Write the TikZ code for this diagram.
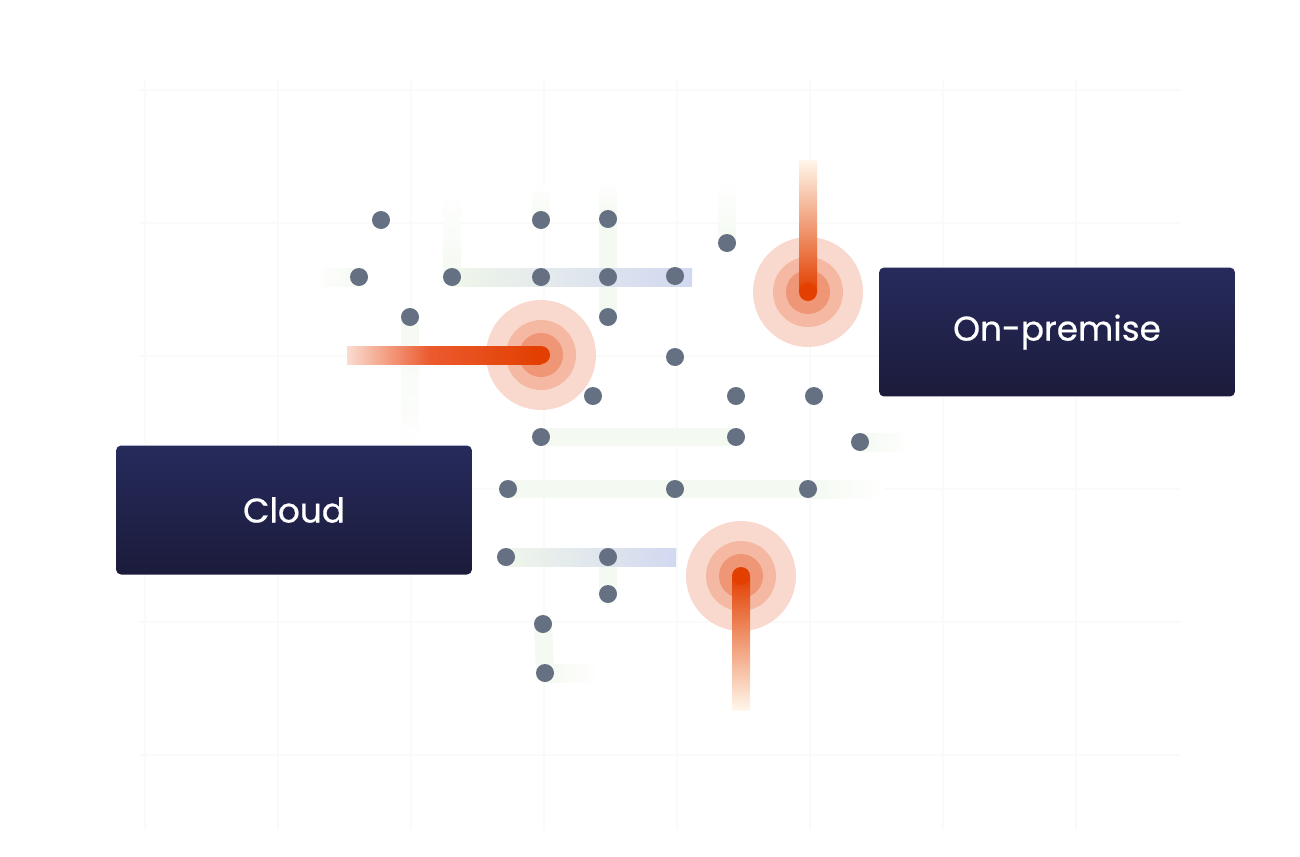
\documentclass[tikz,border=0pt]{standalone}
\usepackage{fontspec}
\setmainfont{Poppins}
\newfontfamily\sitefont{Poppins}[FakeBold=0.6]
\usetikzlibrary{positioning, backgrounds}
\definecolor{dotgray}{HTML}{657083}
\definecolor{boxtop}{HTML}{262B5C}
\definecolor{boxbot}{HTML}{1C1B3B}
\definecolor{gridgreen}{HTML}{F8FBF7}
\definecolor{fadegreen}{HTML}{F4F9F1}
\definecolor{bargreen}{HTML}{EFF6EA}
\definecolor{barblue}{HTML}{D2D8F0}
\definecolor{ringA}{HTML}{F9D9CE}
\definecolor{ringB}{HTML}{F4B8A3}
\definecolor{ringC}{HTML}{EF9677}
\definecolor{hotred}{HTML}{E23F00}
\definecolor{hotorange}{HTML}{EB5A2E}
\definecolor{paleorange}{HTML}{FADCD0}
\definecolor{paleyellow}{HTML}{FFF7EA}
\definecolor{midorange}{HTML}{F6A064}
\tikzset{dot/.style={circle, fill=dotgray, inner sep=0pt, outer sep=0pt, minimum size=0.36cm},
	site/.style={rectangle, rounded corners=0.1cm, top color=boxtop, bottom color=boxbot, minimum width=7.12cm, minimum height=2.58cm, inner sep=0pt, text=white, font=\sitefont\fontsize{19.5}{24}\selectfont},
	fadebar/.style={line width=0.36cm, fadegreen},
	gridline/.style={line width=0.03cm, gridgreen}}

\begin{document}
\begin{tikzpicture}[x=0.02cm, y=-0.02cm]
	\useasboundingbox (0,0) rectangle (1300,856);
	%Punkte
	\foreach \name/\x/\y in {a1/381/220, a2/541/220, a3/608/219, a4/727/243,
		b1/359/277, b2/452/277, b3/541/277, b4/608/277, b5/675/276,
		c1/410/317, c2/608/317, c3/675/357,
		e1/593/396, e2/736/396, e3/814/396,
		f1/541/437, f2/736/437, f3/860/442,
		h1/508/489, h2/675/489, h3/808/489,
		k1/506/557, k2/608/557, k3/608/594,
		m1/543/624, m2/545/673} {
		\node[dot] (\name) at (\x,\y) {};
	}
	%freie Enden
	\coordinate (b6) at (692,277);
	\coordinate (k4) at (676,557);
	\coordinate (g1) at (541,355);
	\coordinate (g2) at (808,292);
	\coordinate (g3) at (741,576);
	\coordinate (t1) at (347,355);
	\coordinate (t2) at (808,160);
	\coordinate (t3) at (741,710);
	\begin{scope}[on background layer]
		%Raster
		\foreach \x in {145,278,...,1080} {
			\draw[gridline] (\x,80) -- (\x,830);
		}
		\foreach \y in {90,223,...,760} {
			\draw[gridline] (140,\y) -- (1180,\y);
		}
		%blasse Balken
		\shade[left color=white, right color=fadegreen] (315,268) rectangle ([yshift=-0.18cm]b1.center);
		\foreach \d/\top in {b2/190, a2/185, a4/180} {
			\shade[top color=white, bottom color=fadegreen] ([xshift=-0.18cm]\d.center |- 0,\top) rectangle ([xshift=0.18cm]\d.center);
		}
		\shade[top color=white, bottom color=fadegreen] (599,180) rectangle ([xshift=0.18cm]a3.center);
		\draw[fadebar] (a3.center) -- (c2.center);
		\shade[top color=fadegreen, bottom color=white] ([xshift=-0.18cm]c1.center) rectangle (419,450);
		\draw[fadebar] (f1.center) -- (f2.center);
		\draw[fadebar] (h1.center) -- (h3.center);
		\shade[left color=fadegreen, right color=white] ([yshift=0.18cm]h3.center) rectangle (885,498);
		\shade[left color=fadegreen, right color=white] ([yshift=0.18cm]f3.center) rectangle (910,451);
		\draw[fadebar] (m1.center) -- (m2.center);
		\shade[left color=fadegreen, right color=white] ([yshift=0.18cm]m2.center) rectangle (600,682);
		\draw[fadebar] (k2.center) -- (k3.center);
		%Verlaufsbalken
		\shade[left color=bargreen, right color=barblue] ([yshift=0.18cm]b2.center) rectangle ([yshift=-0.18cm]b6);
		\shade[left color=bargreen, right color=barblue] ([yshift=0.18cm]k1.center) rectangle ([yshift=-0.18cm]k4);
	\end{scope}
	%Ringe
	\foreach \g in {g1,g2,g3} {
		\fill[ringA] (\g) circle[radius=55];
		\fill[ringB] (\g) circle[radius=35];
		\fill[ringC] (\g) circle[radius=22];
	}
	%Leitungen
	\coordinate (t1b) at (430,355);
	\shade[left color=paleorange, right color=hotorange] ([yshift=0.18cm]t1) rectangle ([yshift=-0.18cm]t1b);
	\shade[left color=hotorange, right color=hotred] ([yshift=0.18cm]t1b) rectangle ([yshift=-0.18cm]g1);
	\shade[top color=paleyellow, middle color=midorange, bottom color=hotred] ([xshift=-0.18cm]t2) rectangle ([xshift=0.18cm]g2);
	\shade[top color=hotred, middle color=midorange, bottom color=paleyellow] ([xshift=-0.18cm]g3) rectangle ([xshift=0.18cm]t3);
	\foreach \g in {g1,g2,g3} {
		\fill[hotred] (\g) circle[radius=9];
	}
	%Standorte
	\node[site] (cloud) at (294,510) {\raisebox{-2pt}{Cloud}};
	\node[site] (onprem) at (1057,332) {\raisebox{-3pt}{On-premise}};
\end{tikzpicture}
\end{document}
